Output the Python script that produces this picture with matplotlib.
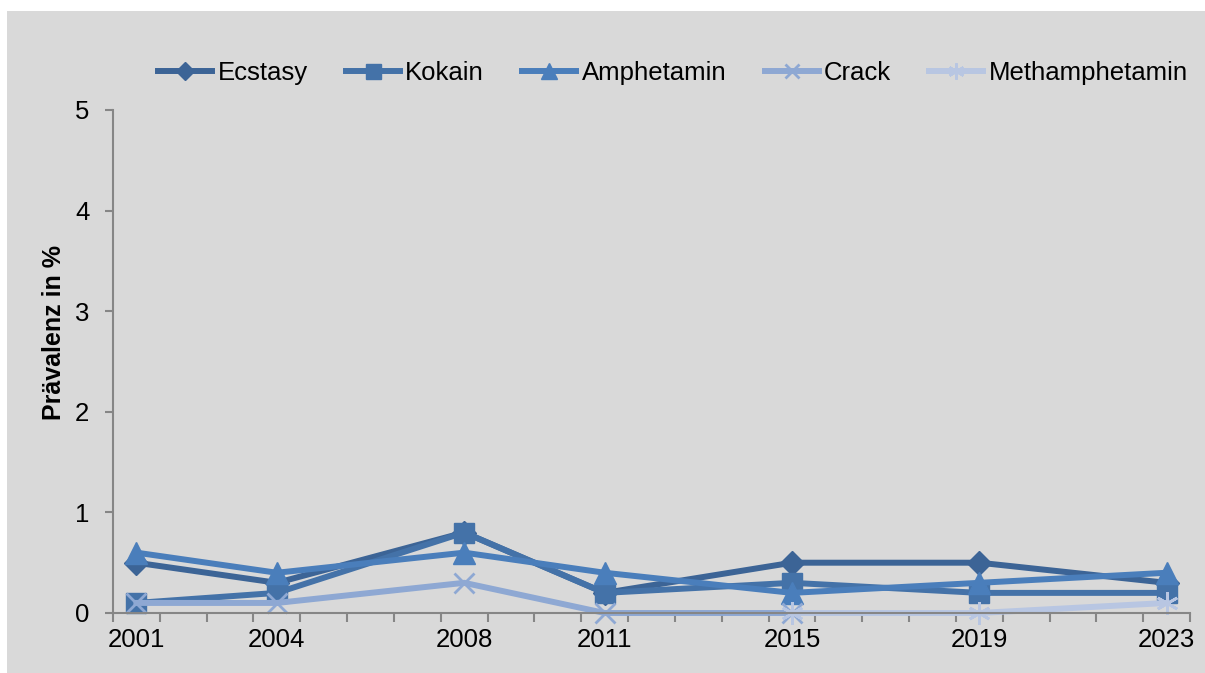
import numpy as np
import matplotlib
matplotlib.use("Agg")
import matplotlib.pyplot as plt
from matplotlib.patches import Rectangle

plt.rcParams['font.family'] = ['Liberation Sans', 'DejaVu Sans']

years = [2001, 2004, 2008, 2011, 2015, 2019, 2023]
ecstasy = [0.5, 0.3, 0.8, 0.2, 0.5, 0.5, 0.3]
kokain = [0.1, 0.2, 0.8, 0.2, 0.3, 0.2, 0.2]
amphetamin = [0.6, 0.4, 0.6, 0.4, 0.2, 0.3, 0.4]
crack = [0.1, 0.1, 0.3, 0.0, 0.0, np.nan, np.nan]
methamphetamin = [np.nan, np.nan, np.nan, np.nan, 0.0, 0.0, 0.1]

series = [
    ("Ecstasy", ecstasy, "#3C6496", "D", 12.5),
    ("Kokain", kokain, "#4472A8", "s", 15),
    ("Amphetamin", amphetamin, "#4A7EBB", "^", 16),
    ("Crack", crack, "#8EA8D3", "x", 14),
    ("Methamphetamin", methamphetamin, "#B8C6E2", (6, 2, 0), 16),
]

W, H = 1205, 673
fig = plt.figure(figsize=(W / 100, H / 100), dpi=100, facecolor="white")
bg = Rectangle((7 / W, 0), 1 - 7 / W, 1 - 11 / H, transform=fig.transFigure,
               facecolor="#D9D9D9", edgecolor="none", zorder=-10)
fig.add_artist(bg)

ax = fig.add_axes([113 / W, 1 - 613 / H, (1190 - 113) / W, (613 - 110) / H])
ax.set_facecolor("none")

handles = []
for name, vals, color, marker, ms in series:
    y = np.array(vals, dtype=float)
    mew = 2.0 if marker in ("x",) or isinstance(marker, tuple) else 1.0
    h, = ax.plot(years, y, color=color, lw=4.3, marker=marker, markersize=ms,
                 markerfacecolor=color, markeredgecolor=color, markeredgewidth=mew,
                 label=name, clip_on=False, solid_joinstyle="miter")
    handles.append(h)

ax.set_xlim(2000.5, 2023.5)
ax.set_ylim(0, 5)

spine_c = "#868686"
for s in ("top", "right"):
    ax.spines[s].set_visible(False)
for s in ("left", "bottom"):
    ax.spines[s].set_color(spine_c)
    ax.spines[s].set_linewidth(1.5)

# year boundaries as tick marks, labels centred on the years
ax.set_xticks(np.arange(2000.5, 2024, 1.0))
ax.set_xticklabels([])
ax.tick_params(axis="x", which="major", direction="out", length=6.5, width=1.5, color=spine_c)
ax.set_xticks(years, minor=True)
ax.set_xticklabels([str(y) for y in years], minor=True)
ax.tick_params(axis="x", which="minor", length=0, pad=11, labelsize=18.5)

ax.set_yticks(range(0, 6))
ax.tick_params(axis="y", direction="out", length=6, width=1.5, color=spine_c,
               labelsize=18.5, pad=11)

fig.text(54 / W, 1 - 333 / H, "Prävalenz in %", rotation=90, ha="center", va="center",
         fontsize=18, fontweight="bold")

fig.legend(handles=handles, loc="center", bbox_to_anchor=(673 / W, 1 - 73 / H),
           ncol=5, frameon=False, fontsize=18.5, handlelength=2.1, handletextpad=0.2,
           columnspacing=1.5, markerscale=0.72)

fig.savefig("out.png", dpi=100, facecolor="white")
